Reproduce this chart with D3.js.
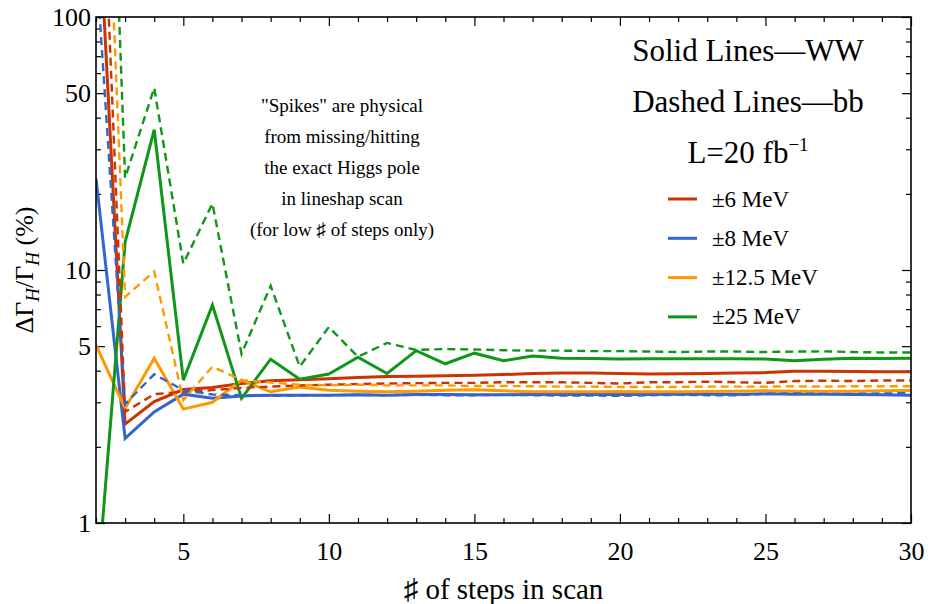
<!DOCTYPE html>
<html>
<head>
<meta charset="utf-8">
<script src="https://cdn.jsdelivr.net/npm/d3@7"></script>
<style>
body { margin: 0; background: #fff; }
svg text, svg tspan { font-family: "Liberation Serif", serif !important; }
</style>
</head>
<body>
<div id="chart"></div>
<script>
// Set the dimensions and margins of the chart
var margin = {top: 17, right: 17, bottom: 81, left: 96},
    width = 928 - margin.left - margin.right,
    height = 604 - margin.top - margin.bottom;
const fontCss = "font-family: 'Liberation Serif', serif !important;";

// DATA ----------------------------------------------
const steps = d3.range(2, 31);   // # of steps in scan, 2..30

// Solid lines = WW, dashed lines = bb (values in %)
const ww6  = [420, 2.46, 3.02, 3.37, 3.43, 3.56, 3.65, 3.68, 3.72, 3.76, 3.79, 3.80, 3.82, 3.84, 3.86, 3.90, 3.92, 3.92, 3.90, 3.88, 3.89, 3.90, 3.92, 3.93, 3.98, 3.98, 3.97, 3.96, 3.96];
const bb6  = [1680, 2.75, 3.23, 3.30, 3.35, 3.42, 3.46, 3.50, 3.52, 3.54, 3.56, 3.57, 3.58, 3.58, 3.60, 3.60, 3.60, 3.58, 3.56, 3.60, 3.60, 3.62, 3.60, 3.58, 3.64, 3.65, 3.64, 3.66, 3.66];
const ww8  = [23, 2.16, 2.75, 3.23, 3.11, 3.18, 3.20, 3.20, 3.20, 3.21, 3.20, 3.22, 3.22, 3.21, 3.21, 3.22, 3.22, 3.22, 3.23, 3.22, 3.23, 3.23, 3.22, 3.24, 3.23, 3.23, 3.22, 3.21, 3.20];
const bb8  = [169, 2.95, 3.87, 3.35, 3.22, 3.20, 3.18, 3.19, 3.20, 3.21, 3.20, 3.21, 3.20, 3.20, 3.21, 3.20, 3.19, 3.19, 3.18, 3.20, 3.21, 3.20, 3.20, 3.24, 3.25, 3.24, 3.24, 3.25, 3.26];
const ww12 = [5.05, 2.84, 4.48, 2.82, 3.00, 3.67, 3.30, 3.45, 3.35, 3.32, 3.30, 3.32, 3.35, 3.36, 3.33, 3.30, 3.30, 3.30, 3.31, 3.30, 3.30, 3.31, 3.32, 3.33, 3.32, 3.32, 3.32, 3.33, 3.34];
const bb12 = [5300, 7.83, 9.86, 3.06, 4.15, 3.67, 3.59, 3.52, 3.50, 3.52, 3.50, 3.50, 3.50, 3.48, 3.48, 3.47, 3.46, 3.46, 3.45, 3.45, 3.45, 3.46, 3.46, 3.46, 3.47, 3.46, 3.47, 3.47, 3.47];
const ww25 = [0.48, 12.9, 35.9, 3.67, 7.27, 3.11, 4.44, 3.70, 3.88, 4.52, 3.90, 4.80, 4.26, 4.69, 4.38, 4.57, 4.48, 4.47, 4.45, 4.46, 4.46, 4.46, 4.46, 4.45, 4.38, 4.44, 4.48, 4.47, 4.48];
const bb25 = [30000, 23.1, 52.5, 10.6, 18.3, 4.66, 8.66, 4.15, 5.95, 4.54, 5.15, 4.83, 4.87, 4.85, 4.82, 4.80, 4.80, 4.78, 4.78, 4.76, 4.74, 4.76, 4.76, 4.74, 4.76, 4.77, 4.74, 4.72, 4.72];

const legendLabels = ["±6 MeV", "±8 MeV", "±12.5 MeV", "±25 MeV"];
const colors = ["#cc3300", "#3366cc", "#ff9900", "#109618"];
const xMajor = [5, 10, 15, 20, 25, 30];
const yMajor = [1, 5, 10, 50, 100];
const note = ['"Spikes" are physical', 'from missing/hitting', 'the exact Higgs pole', 'in lineshap scan', '(for low ♯ of steps only)'];

// series table built from the arrays above
const series = [
    {vals: ww6,  color: 0, dashed: false},
    {vals: ww8,  color: 1, dashed: false},
    {vals: ww12, color: 2, dashed: false},
    {vals: ww25, color: 3, dashed: false},
    {vals: bb6,  color: 0, dashed: true},
    {vals: bb8,  color: 1, dashed: true},
    {vals: bb12, color: 2, dashed: true},
    {vals: bb25, color: 3, dashed: true}
];

// SCALES --------------------------------------------
var x = d3.scaleLinear().domain([2, 30]).range([0, width]);
var y = d3.scaleLog().domain([1, 100]).range([height, 0]);

var root = d3.select("#chart")
    .append("svg")
        .attr("width", width + margin.left + margin.right)
        .attr("height", height + margin.top + margin.bottom)
        .attr("font-family", "Liberation Serif")
        .attr("style", fontCss);
var svg = root.append("g")
        .attr("transform", `translate(${margin.left},${margin.top})`);

svg.append("clipPath").attr("id", "clip")
    .append("rect").attr("width", width).attr("height", height);

// Minor ticks (every integer / every log step), all four sides, pointing inward
var xMinor = x.ticks(28).filter(d => !xMajor.includes(d));
var yMinor = [2, 3, 4, 6, 7, 8, 9, 20, 30, 40, 60, 70, 80, 90];

function frameAxis(axisFn, scale, values, size, pos, labels) {
    var g = svg.append("g")
        .attr("transform", pos)
        .call(axisFn(scale).tickValues(values).tickSize(-size).tickPadding(labels ? 12 : 0)
            .tickFormat(labels ? d3.format("d") : ""));
    g.attr("font-family", "Liberation Serif").attr("font-size", null);
    g.select(".domain").remove();
    g.selectAll(".tick line").attr("stroke", "#000").attr("stroke-width", 1.2);
    g.selectAll("text")
        .attr("font-family", "Liberation Serif")
        .attr("style", fontCss + " font-size: 26px;")
        .attr("fill", "#000");
    return g;
}

frameAxis(d3.axisBottom, x, xMinor, 5, `translate(0,${height})`, false);
frameAxis(d3.axisTop, x, xMinor, 5, "translate(0,0)", false);
frameAxis(d3.axisLeft, y, yMinor, 5, "translate(0,0)", false);
frameAxis(d3.axisRight, y, yMinor, 5, `translate(${width},0)`, false);

var xb = frameAxis(d3.axisBottom, x, xMajor, 9, `translate(0,${height})`, true);
xb.selectAll("text").attr("dy", "0.95em");
frameAxis(d3.axisTop, x, xMajor, 9, "translate(0,0)", false);
var yl = frameAxis(d3.axisLeft, y, yMajor, 9, "translate(0,0)", true);
yl.selectAll("text").attr("x", -5);
frameAxis(d3.axisRight, y, yMajor, 9, `translate(${width},0)`, false);

// LINES ---------------------------------------------
var line = d3.line()
    .x((d, i) => x(steps[i]))
    .y(d => y(d));

svg.append("g")
    .attr("clip-path", "url(#clip)")
    .selectAll("path")
    .data(series)
    .join("path")
        .attr("d", d => line(d.vals))
        .attr("fill", "none")
        .attr("stroke", d => colors[d.color])
        .attr("stroke-width", d => d.dashed ? 2.4 : 3)
        .attr("stroke-dasharray", d => d.dashed ? "8,5" : null)
        .attr("stroke-linejoin", "miter");

// Frame
svg.append("rect")
    .attr("width", width).attr("height", height)
    .attr("fill", "none").attr("stroke", "#000").attr("stroke-width", 1.6);

// helper for plain text with the serif font set on the element itself
function addText(g, px) {
    return g.append("text")
        .attr("font-family", "Liberation Serif")
        .attr("style", fontCss + ` font-size: ${px}px;`)
        .attr("fill", "#000");
}

// AXIS TITLES ---------------------------------------
addText(svg, 29)
    .attr("x", x(16)).attr("y", height + 76)
    .attr("text-anchor", "middle")
    .text("♯ of steps in scan");

var ylab = addText(svg, 26)
    .attr("transform", `translate(${33 - margin.left},${y(10)}) rotate(-90)`)
    .attr("text-anchor", "middle");
ylab.append("tspan").text("ΔΓ");
ylab.append("tspan").attr("font-style", "italic").attr("font-size", 19).attr("dy", 6).text("H");
ylab.append("tspan").attr("dy", -6).text("/Γ");
ylab.append("tspan").attr("font-style", "italic").attr("font-size", 19).attr("dy", 6).text("H");
ylab.append("tspan").attr("dy", -6).text(" (%)");

// ANNOTATION ----------------------------------------
note.forEach((d, i) => {
    addText(svg, 19)
        .attr("x", 246).attr("y", 95 + i * 31)
        .attr("text-anchor", "middle")
        .text(d);
});

// LEGEND --------------------------------------------
var lx = 652;
addText(svg, 31).attr("x", lx).attr("y", 44).attr("text-anchor", "middle").text("Solid Lines—WW");
addText(svg, 31).attr("x", lx).attr("y", 95).attr("text-anchor", "middle").text("Dashed Lines—bb");
var lum = addText(svg, 31).attr("x", lx).attr("y", 146).attr("text-anchor", "middle");
lum.append("tspan").text("L=20 fb");
lum.append("tspan").attr("dy", -12).attr("font-size", 19).text("−1");

legendLabels.forEach((d, i) => {
    var g = svg.append("g").attr("transform", `translate(572,${182 + i * 39.3})`);
    g.append("line")
        .attr("x1", 0).attr("x2", 29)
        .attr("stroke", colors[i]).attr("stroke-width", 3);
    addText(g, 23).attr("x", 44).attr("dy", "0.33em").text(d);
});
</script>
</body>
</html>
